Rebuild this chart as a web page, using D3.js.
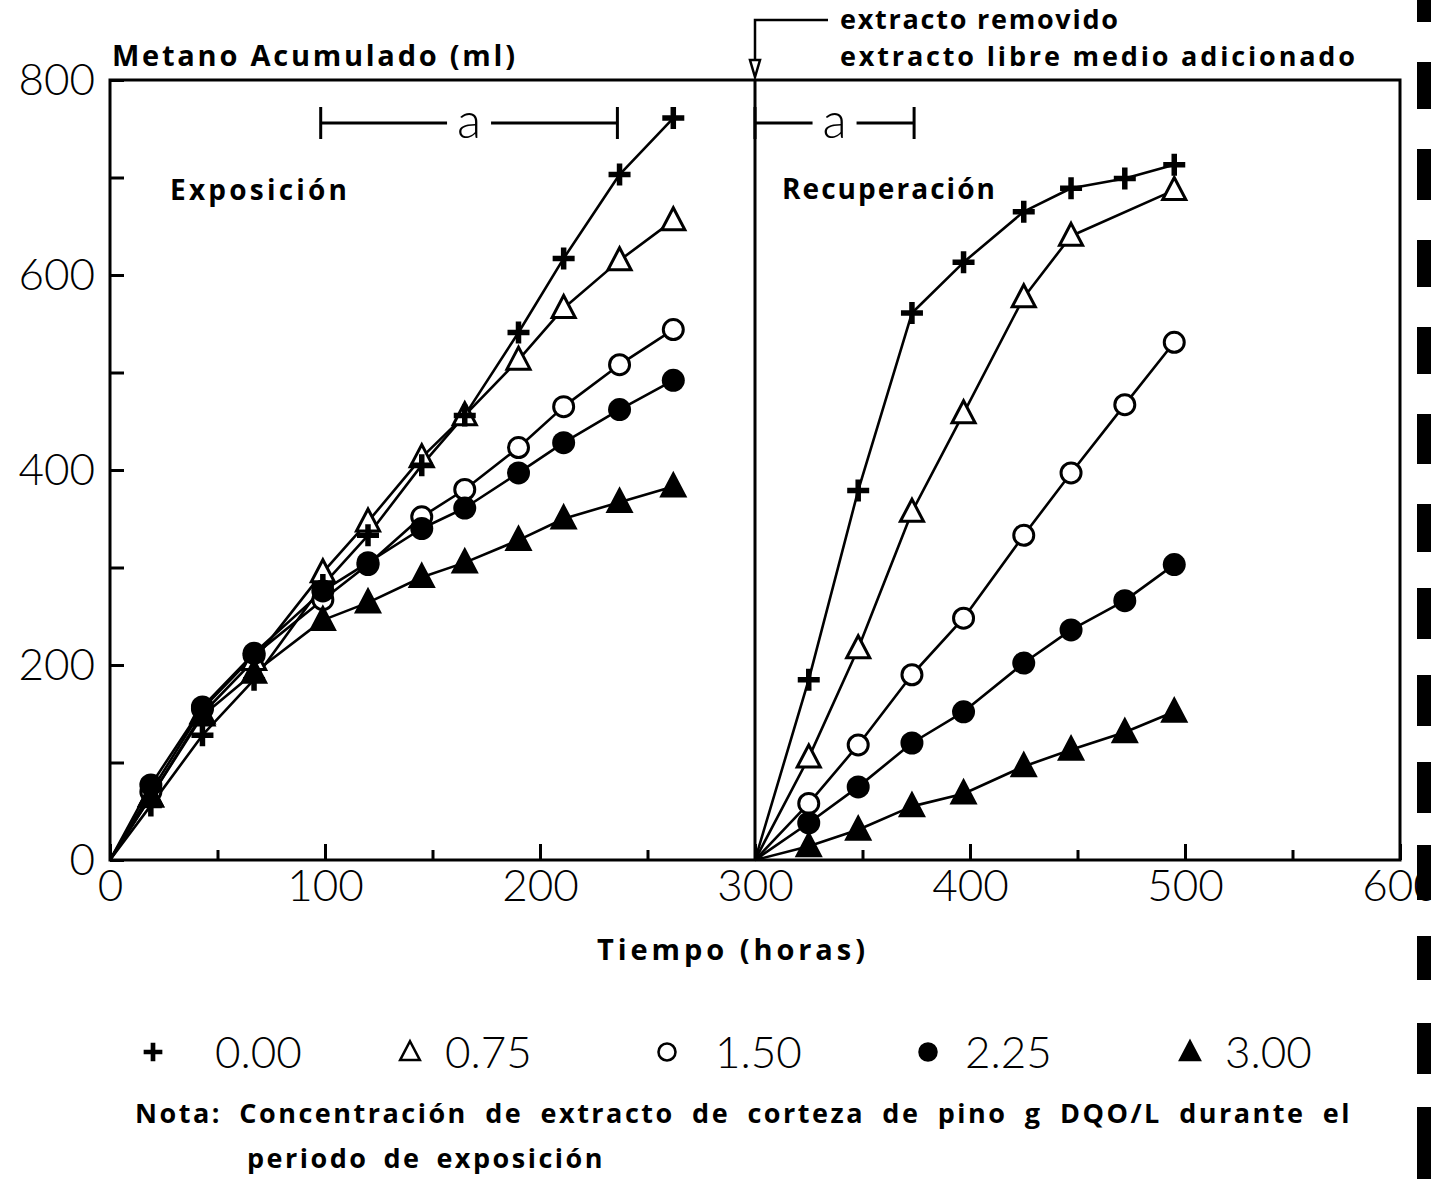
<!DOCTYPE html>
<html><head><meta charset="utf-8">
<script src="https://cdn.jsdelivr.net/npm/d3@7"></script>
<style>body{margin:0;background:#fff}</style>
</head><body>
<svg id="c" width="1431" height="1179"></svg>
<script>
// ---- data ----
const seriesNames = ["0.00", "0.75", "1.50", "2.25", "3.00"];
const markerTypes = ["plus", "triangleOpen", "circleOpen", "circleFilled", "triangleFilled"];
const expTimes = [0, 19, 43, 67, 99, 120, 145, 165, 190, 211, 237, 262];
const exp000 = [0, 56, 128, 185, 282, 333, 405, 456, 541, 617, 703, 761];
const exp075 = [0, 65, 150, 205, 295, 347, 413, 456, 513, 566, 615, 656];
const exp150 = [0, 70, 155, 210, 267, 303, 352, 380, 423, 465, 508, 544];
const exp225 = [0, 77, 157, 212, 276, 305, 340, 361, 397, 428, 462, 492];
const exp300 = [0, 65, 148, 192, 246, 264, 290, 305, 328, 350, 367, 383];
const recTimes = [300, 325, 348, 373, 397, 425, 447, 472, 495];
const rec000 = [0, 185, 379, 561, 613, 665, 689, 699, 713];
const rec075 = [0, 105, 217, 357, 458, 577, 640, null, 687];
const rec150 = [0, 58, 118, 190, 248, 333, 397, 467, 531];
const rec225 = [0, 38, 75, 120, 152, 202, 236, 266, 303];
const rec300 = [0, 14, 31, 55, 68, 96, 113, 131, 152];
const xTickValues = [0, 100, 200, 300, 400, 500, 600];
const xMinorTicks = [50, 150, 250, 350, 450, 550];
const yTickValues = [0, 100, 200, 300, 400, 500, 600, 700, 800];
const yLabelValues = [0, 200, 400, 600, 800];
const periodA = [[98, 236], [300, 374]];
const dividerTime = 300;
// scan-edge artefact bars at the right margin [y0, y1]
const scanBars = [[0,22],[62,109],[149,200],[240,287],[327,374],[414,464],[504,552],[588,639],[675,726],[762,813],[845,900],[936,980],[1023,1074],[1107,1179]];

const expSeries = [exp000, exp075, exp150, exp225, exp300];
const recSeries = [rec000, rec075, rec150, rec225, rec300];

// ---- drawing ----
const svg = d3.select("#c");
const x = d3.scaleLinear().domain([0, 600]).range([110, 1400]);
const y = d3.scaleLinear().domain([0, 800]).range([860, 80]);
const numFont = "Lato, 'DejaVu Sans', sans-serif";
const boldFont = "'Open Sans', 'DejaVu Sans', sans-serif";

// box
svg.append("rect").attr("x", x(0)).attr("y", y(800)).attr("width", x(600) - x(0)).attr("height", y(0) - y(800))
  .attr("fill", "none").attr("stroke", "#000").attr("stroke-width", 3);
// divider
svg.append("line").attr("x1", x(dividerTime)).attr("x2", x(dividerTime)).attr("y1", y(800)).attr("y2", y(0))
  .attr("stroke", "#000").attr("stroke-width", 3);

// axes ticks (inside)
const xAxis = d3.axisBottom(x).tickValues(xTickValues).tickSize(-16).tickFormat(d3.format("d")).tickPadding(10);
const gx = svg.append("g").attr("transform", `translate(0,${y(0)})`).call(xAxis);
gx.select(".domain").remove();
gx.selectAll("line").attr("stroke-width", 3);
gx.selectAll("text").attr("font-family", numFont).attr("font-weight", 300).attr("font-size", 44).attr("fill", "#000");
const gxm = svg.append("g").attr("transform", `translate(0,${y(0)})`)
  .call(d3.axisBottom(x).tickValues(xMinorTicks).tickSize(-10).tickFormat(""));
gxm.select(".domain").remove();
gxm.selectAll("line").attr("stroke-width", 3);

const yAxis = d3.axisLeft(y).tickValues(yTickValues).tickSize(-14)
  .tickFormat(d => yLabelValues.includes(d) ? d3.format("d")(d) : "").tickPadding(15);
const gy = svg.append("g").attr("transform", `translate(${x(0)},0)`).call(yAxis);
gy.select(".domain").remove();
gy.selectAll("line").attr("stroke-width", 3);
gy.selectAll("text").attr("font-family", numFont).attr("font-weight", 300).attr("font-size", 44).attr("fill", "#000").attr("dy", "0.34em");

// period "a" bars
const aY = 123;
periodA.forEach(([a0, a1]) => {
  const g = svg.append("g").attr("stroke", "#000").attr("stroke-width", 3);
  const xm = (x(a0) + x(a1)) / 2;
  g.append("line").attr("x1", x(a0)).attr("x2", x(a1)).attr("y1", aY).attr("y2", aY);
  g.append("line").attr("x1", x(a0)).attr("x2", x(a0)).attr("y1", aY - 16).attr("y2", aY + 16);
  g.append("line").attr("x1", x(a1)).attr("x2", x(a1)).attr("y1", aY - 16).attr("y2", aY + 16);
  svg.append("rect").attr("x", xm - 22).attr("y", aY - 20).attr("width", 44).attr("height", 40).attr("fill", "#fff");
  svg.append("text").attr("x", xm).attr("y", aY + 15).attr("text-anchor", "middle")
    .attr("font-family", numFont).attr("font-weight", 300).attr("font-size", 50).text("a");
});

// annotation arrow
const ann = svg.append("g").attr("stroke", "#000").attr("stroke-width", 2.5).attr("fill", "none");
ann.append("path").attr("d", `M${x(dividerTime)},60 V20 H828`);
ann.append("path").attr("d", `M${x(dividerTime)-5},60 L${x(dividerTime)+5},60 L${x(dividerTime)},77 Z`).attr("fill", "#fff");

// lines
const line = d3.line().x(d => x(d[0])).y(d => y(d[1]));
const expPts = expSeries.map(s => expTimes.map((t, i) => [t, s[i]]));
const recPts = recSeries.map(s => recTimes.map((t, i) => [t, s[i]]).filter(d => d[1] != null));
expPts.concat(recPts).forEach(p => svg.append("path").attr("d", line(p)).attr("fill", "none")
  .attr("stroke", "#000").attr("stroke-width", 2.6).attr("stroke-linejoin", "round"));

// markers
function drawMarker(g, type, cx, cy, s) {
  if (type === "plus") {
    g.append("path").attr("d", `M${cx - 11*s},${cy} H${cx + 11*s} M${cx},${cy - 11*s} V${cy + 11*s}`)
      .attr("stroke", "#000").attr("stroke-width", 5.5*s);
  } else if (type === "triangleOpen" || type === "triangleFilled") {
    const h = 11*s;
    g.append("path").attr("d", `M${cx},${cy - h*1.15} L${cx + h*1.05},${cy + h*0.85} L${cx - h*1.05},${cy + h*0.85} Z`)
      .attr("fill", type === "triangleFilled" ? "#000" : "#fff").attr("stroke", "#000").attr("stroke-width", 3*s)
      .attr("stroke-linejoin", "miter");
  } else if (type === "circleOpen") {
    g.append("circle").attr("cx", cx).attr("cy", cy).attr("r", 10*s).attr("fill", "#fff").attr("stroke", "#000").attr("stroke-width", 3*s);
  } else {
    g.append("circle").attr("cx", cx).attr("cy", cy).attr("r", 11.5*s).attr("fill", "#000");
  }
}
const drawOrder = [2, 1, 0, 4, 3];
const mg = svg.append("g");
drawOrder.forEach(si => {
  expPts[si].slice(1).forEach(d => drawMarker(mg, markerTypes[si], x(d[0]), y(d[1]), 1));
  recPts[si].slice(1).forEach(d => drawMarker(mg, markerTypes[si], x(d[0]), y(d[1]), 1));
});

// texts
function label(txt, tx, ty, len, size) {
  const t = svg.append("text").attr("x", tx).attr("y", ty).attr("font-family", boldFont)
    .attr("font-weight", "bold").attr("font-size", size).attr("fill", "#000").text(txt);
  if (len) t.attr("textLength", len).attr("lengthAdjust", "spacing");
  return t;
}
// spreads words (not letters) to reach the target width
function wordLabel(txt, tx, ty, len, size, ls) {
  const t = svg.append("text").attr("x", tx).attr("y", ty).attr("font-family", boldFont)
    .attr("font-weight", "bold").attr("font-size", size).attr("letter-spacing", ls).attr("fill", "#000").text(txt);
  const natural = t.node().getComputedTextLength();
  const spaces = (txt.match(/ /g) || []).length;
  if (spaces > 0 && natural < len) t.attr("word-spacing", (len - natural) / spaces);
  return t;
}
label("Metano Acumulado (ml)", 112, 66, 403, 29);
label("Exposición", 170, 200, 177, 28);
label("Recuperación", 782, 199, 213, 28);
label("Tiempo (horas)", 597, 960, 268, 29);
label("extracto removido", 840, 29, 278, 27);
label("extracto libre medio adicionado", 840, 66, 515, 27);
wordLabel("Nota: Concentración de extracto de corteza de pino g DQO/L durante el", 135, 1123, 1217, 27, 2.5);
wordLabel("periodo de exposición", 247, 1168, 358, 27, 2.5);

// legend
const legX = [153, 410, 667, 928, 1190];
const legTxtX = [215, 445, 715, 965, 1225];
seriesNames.forEach((n, i) => {
  drawMarker(svg, markerTypes[i], legX[i], 1052, 0.85);
  svg.append("text").attr("x", legTxtX[i]).attr("y", 1068).attr("font-family", numFont).attr("font-weight", 300)
    .attr("font-size", 44).attr("fill", "#000").text(n);
});

// scan artefact bars
svg.append("g").selectAll("rect").data(scanBars).join("rect")
  .attr("x", 1417).attr("y", d => d[0]).attr("width", 14).attr("height", d => d[1] - d[0]).attr("fill", "#000");
</script>
</body></html>
